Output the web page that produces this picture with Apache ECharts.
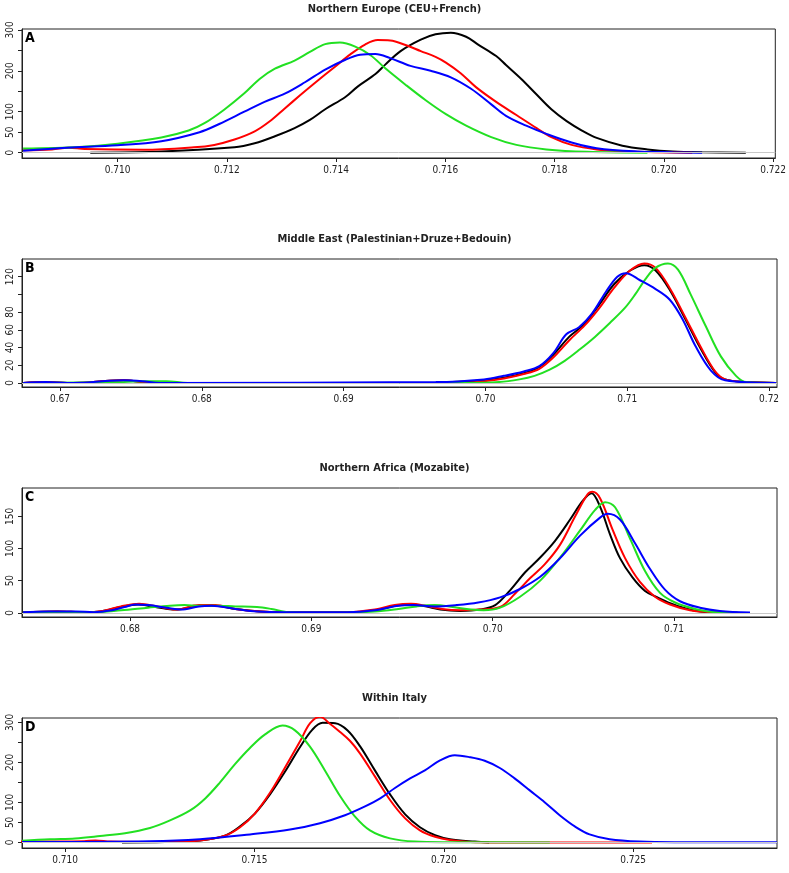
<!DOCTYPE html>
<html>
<head>
<meta charset="utf-8">
<script src="https://cdn.jsdelivr.net/npm/echarts@6/dist/echarts.min.js"></script>
<style>
  html, body { margin: 0; padding: 0; background: #fff; }
  #main { width: 789px; height: 873px; }
</style>
</head>
<body>
<div id="main"></div>
<script>
// panel titles and letters
let titles = ['Northern Europe (CEU+French)', 'Middle East (Palestinian+Druze+Bedouin)', 'Northern Africa (Mozabite)', 'Within Italy'];
let letters = ['A', 'B', 'C', 'D'];

// x tick labels per panel
let xTicksA = [0.710, 0.712, 0.714, 0.716, 0.718, 0.720, 0.722];
let xTicksB = [0.67, 0.68, 0.69, 0.70, 0.71, 0.72];
let xTicksC = [0.68, 0.69, 0.70, 0.71];
let xTicksD = [0.710, 0.715, 0.720, 0.725];
// y ticks (all) and the labels R kept
let yTicksA = [0, 50, 100, 150, 200, 250, 300];
let yLabelsA = [0, 50, 100, 200, 300];
let yTicksB = [0, 20, 40, 60, 80, 100, 120];
let yLabelsB = [0, 20, 40, 60, 80, 120];
let yTicksC = [0, 50, 100, 150];
let yLabelsC = [0, 50, 100, 150];
let yTicksD = [0, 50, 100, 150, 200, 250, 300];
let yLabelsD = [0, 50, 100, 200, 300];

// density curves [x, density]
let aBlack = [[0.7095,0],[0.7107,2],[0.71214,13],[0.71251,23],[0.71288,40],[0.71324,60],[0.71352,80],[0.7138,106],[0.71417,136],[0.7144,162],[0.71472,192],[0.7149,215],[0.71518,248],[0.71555,276],[0.71582,289],[0.7161,293],[0.71638,283],[0.7166,264],[0.71693,236],[0.71711,214],[0.71739,180],[0.71767,142],[0.71794,106],[0.71822,77],[0.7185,54],[0.71877,36],[0.71924,17],[0.7197,8],[0.72016,3],[0.7207,1],[0.7215,0]];
let aRed = [[0.70827,6],[0.7088,8],[0.7091,12],[0.7094,9],[0.71048,7],[0.7114,13],[0.71177,19],[0.71214,32],[0.71251,52],[0.71278,76],[0.71306,108],[0.71334,140],[0.71361,170],[0.71398,210],[0.71426,240],[0.71453,264],[0.71476,275],[0.71499,274],[0.71527,263],[0.71555,248],[0.71582,234],[0.71601,220],[0.71628,194],[0.71656,160],[0.71693,124],[0.7173,92],[0.71767,60],[0.71794,38],[0.71831,19],[0.71877,8],[0.71933,3],[0.72052,0]];
let aGreen = [[0.70827,10],[0.7093,14],[0.7100,22],[0.7108,37],[0.7113,54],[0.71159,72],[0.71195,105],[0.71232,145],[0.7126,180],[0.71288,205],[0.71324,225],[0.71352,246],[0.7138,265],[0.71407,269],[0.71435,259],[0.71463,238],[0.7149,206],[0.71527,166],[0.71564,128],[0.71601,94],[0.71638,66],[0.71684,38],[0.7173,19],[0.71785,8],[0.71859,2],[0.7197,0]];
let aBlue = [[0.70827,5],[0.70907,12],[0.7100,18],[0.7108,28],[0.7115,50],[0.71186,70],[0.71232,100],[0.71269,124],[0.71306,144],[0.71343,172],[0.7138,203],[0.71417,227],[0.71444,239],[0.71472,241],[0.71499,231],[0.71536,212],[0.71573,200],[0.7161,184],[0.71647,156],[0.71684,118],[0.71711,90],[0.71748,66],[0.71785,46],[0.71831,25],[0.71877,11],[0.71951,3],[0.72016,1],[0.7207,0]];

let bBlack = [[0.6674,0],[0.669,1],[0.6705,0],[0.672,0.5],[0.6735,2.5],[0.6745,3],[0.6758,1],[0.677,0],[0.6965,0],[0.6977,1],[0.6999,3],[0.7013,6],[0.7027,11],[0.7038,18],[0.7048,32],[0.7059,52],[0.707,67],[0.708,88],[0.7091,112],[0.7102,127],[0.7112,133],[0.712,127],[0.713,105],[0.7141,72],[0.7152,38],[0.7162,12],[0.7169,4],[0.7184,1],[0.7205,0]];
let bRed = [[0.6674,0],[0.669,1],[0.6705,0],[0.672,0.5],[0.6735,2.5],[0.6745,3],[0.6758,1],[0.677,0],[0.698,0],[0.6999,2],[0.7013,5],[0.7027,10],[0.7038,16],[0.7048,29],[0.7059,48],[0.707,65],[0.708,84],[0.7091,108],[0.7102,127],[0.7112,135],[0.712,130],[0.713,107],[0.7141,74],[0.7152,40],[0.7162,13],[0.7169,4],[0.7184,1],[0.7205,0]];
let bGreen = [[0.6674,0],[0.6745,1],[0.676,2],[0.6775,2],[0.679,0],[0.6985,0],[0.70097,1],[0.7024,4],[0.70346,8],[0.70453,15],[0.70559,25],[0.70666,38],[0.70772,52],[0.70879,68],[0.70985,85],[0.71056,100],[0.71127,117],[0.71198,130],[0.71287,135],[0.71358,128],[0.71447,100],[0.71554,64],[0.7166,30],[0.71767,8],[0.71838,1],[0.7205,0]];
let bBlue = [[0.6674,0],[0.669,1],[0.6705,0],[0.672,0.5],[0.6735,2.5],[0.6745,3],[0.6758,2],[0.677,0],[0.6965,1],[0.6999,4],[0.7013,8],[0.7027,13],[0.7038,19],[0.7048,34],[0.7057,55],[0.7066,63],[0.7075,78],[0.7085,103],[0.7093,120],[0.7099,124],[0.7109,116],[0.712,106],[0.713,94],[0.7139,72],[0.7148,42],[0.7159,14],[0.7169,3],[0.7205,0]];

let cBlack = [[0.6741,1],[0.676,2],[0.6775,1],[0.67837,2],[0.67948,9],[0.68044,13],[0.6814,9],[0.68251,5],[0.68388,11],[0.68471,11],[0.68581,6],[0.68719,2],[0.68829,1],[0.69215,1],[0.69353,4],[0.69463,11],[0.69545,13],[0.69628,10],[0.69711,5],[0.69821,3],[0.69931,5],[0.70014,12],[0.70096,35],[0.70179,63],[0.70262,86],[0.70344,112],[0.70427,145],[0.70496,174],[0.70545,186],[0.70592,165],[0.70647,122],[0.70702,85],[0.70771,55],[0.7084,34],[0.70909,24],[0.70978,15],[0.71061,7],[0.71143,2],[0.71226,0.5],[0.7135,0]];
let cRed = [[0.6741,1],[0.676,2],[0.6775,1],[0.6785,3],[0.6795,10],[0.6805,14],[0.6815,10],[0.6825,5],[0.6838,12],[0.6847,12],[0.6858,6],[0.6872,2],[0.6885,1],[0.692,1],[0.6935,5],[0.6946,12],[0.6955,14],[0.6963,11],[0.6972,6],[0.6982,4],[0.6993,5],[0.70041,9],[0.70124,30],[0.70207,54],[0.70289,76],[0.70372,106],[0.70455,150],[0.70523,184],[0.7055,188],[0.70592,178],[0.7066,130],[0.7073,85],[0.70812,48],[0.70895,25],[0.70978,13],[0.71088,4],[0.71198,1],[0.7128,0]];
let cGreen = [[0.6741,0.5],[0.678,1],[0.6795,4],[0.681,8],[0.6822,11],[0.683,12],[0.6838,11],[0.6847,11],[0.6858,10],[0.687,9],[0.6878,6],[0.6888,1],[0.692,0.5],[0.6935,2],[0.6948,6],[0.6958,10],[0.6968,12],[0.6978,9],[0.6988,5],[0.6995,4],[0.70041,8],[0.70151,25],[0.70262,50],[0.70372,86],[0.70482,128],[0.70565,160],[0.7062,172],[0.70675,164],[0.70758,115],[0.7084,65],[0.70923,31],[0.71006,16],[0.71116,6],[0.71226,1],[0.7135,0]];
let cBlue = [[0.6741,1],[0.6755,2],[0.677,2],[0.678,1],[0.679,4],[0.6797,9],[0.6803,13],[0.681,12],[0.682,8],[0.6828,5],[0.6838,10],[0.6845,11],[0.6858,6],[0.687,2],[0.6885,1],[0.692,1],[0.6935,4],[0.6948,11],[0.6956,12],[0.6968,10],[0.698,12],[0.6992,16],[0.70041,24],[0.70151,37],[0.70262,56],[0.70372,85],[0.70482,120],[0.70592,148],[0.70634,154],[0.70702,145],[0.70785,108],[0.70868,68],[0.7095,36],[0.71033,18],[0.71143,8],[0.71253,3],[0.71419,0.5]];

let dBlack = [[0.7115,0],[0.71264,1],[0.71356,5],[0.71422,17],[0.71462,40],[0.71501,72],[0.71541,120],[0.7158,176],[0.7162,238],[0.71653,282],[0.7168,299],[0.71713,298],[0.71746,280],[0.71779,240],[0.71818,180],[0.71858,120],[0.71898,70],[0.71937,38],[0.71977,18],[0.72016,8],[0.72082,2],[0.7212,0]];
let dRed = [[0.7088,2],[0.7105,3],[0.7108,5],[0.7112,2],[0.7125,1],[0.71356,5],[0.71422,17],[0.71462,38],[0.71501,72],[0.71541,124],[0.7158,186],[0.7162,252],[0.71647,298],[0.71673,314],[0.717,296],[0.71726,276],[0.71752,254],[0.71779,222],[0.71818,165],[0.71858,106],[0.71898,60],[0.71937,30],[0.71977,14],[0.72016,6],[0.72069,1],[0.7215,0],[0.7255,0]];
let dGreen = [[0.70886,4],[0.7096,8],[0.71026,10],[0.71092,16],[0.71158,23],[0.71224,36],[0.71277,55],[0.7133,80],[0.7137,110],[0.71409,150],[0.71448,195],[0.71488,236],[0.71528,270],[0.71574,292],[0.71607,280],[0.71646,240],[0.71686,180],[0.71726,116],[0.71765,65],[0.71805,30],[0.71858,10],[0.71924,2],[0.7201,0.5],[0.7228,0]];
let dBlue = [[0.70886,1],[0.71224,3],[0.71356,8],[0.71488,20],[0.71594,32],[0.71673,48],[0.71739,68],[0.71792,90],[0.71832,110],[0.71871,136],[0.71911,160],[0.7195,180],[0.7199,205],[0.72029,218],[0.72069,213],[0.72108,204],[0.72148,186],[0.72187,160],[0.72227,130],[0.72267,100],[0.72306,68],[0.72346,40],[0.72385,20],[0.72438,8],[0.72517,2],[0.72609,0.5],[0.7288,0.5]];

let FONT = "'Liberation Sans Narrow','Arial Narrow','DejaVu Sans Condensed',sans-serif";
let colors = ['#000000', '#ff0000', '#22e022', '#0000ff'];

let panels = [
    {curves: [aBlack, aRed, aGreen, aBlue], xMin: 0.70825, xMax: 0.72204, yMin: -13, yMax: 302, xTicks: xTicksA, dec: 3, yTicks: yTicksA, yLabels: yLabelsA, top: 29, height: 129},
    {curves: [bBlack, bRed, bGreen, bBlue], xMin: 0.66732, xMax: 0.72056, yMin: -4.6, yMax: 140, xTicks: xTicksB, dec: 2, yTicks: yTicksB, yLabels: yLabelsB, top: 259, height: 128},
    {curves: [cBlack, cRed, cGreen, cBlue], xMin: 0.67404, xMax: 0.71568, yMin: -6.5, yMax: 194, xTicks: xTicksC, dec: 2, yTicks: yTicksC, yLabels: yLabelsC, top: 488, height: 129},
    {curves: [dBlack, dRed, dGreen, dBlue], xMin: 0.70886, xMax: 0.7288, yMin: -14, yMax: 311, xTicks: xTicksD, dec: 3, yTicks: yTicksD, yLabels: yLabelsD, top: 718, height: 130}
];

let grids = [], xAxes = [], yAxes = [], series = [], graphics = [];
panels.forEach((p, i) => {
    grids.push({left: 22, width: 755, top: p.top, height: p.height, show: true, borderColor: '#222', borderWidth: 1, backgroundColor: '#fff'});
    xAxes.push({
        type: 'value', gridIndex: i, min: p.xMin, max: p.xMax,
        axisLine: {show: true, onZero: false, lineStyle: {color: '#222'}},
        axisTick: {show: true, length: 4, lineStyle: {color: '#222'}, customValues: p.xTicks},
        axisLabel: {customValues: p.xTicks, margin: 7, fontSize: 10, color: '#222', fontFamily: FONT,
            formatter: v => v.toFixed(p.dec)},
        splitLine: {show: false}
    });
    yAxes.push({
        type: 'value', gridIndex: i, min: p.yMin, max: p.yMax,
        axisLine: {show: true, lineStyle: {color: '#222'}},
        axisTick: {show: true, length: 4, lineStyle: {color: '#222'}, customValues: p.yTicks},
        axisLabel: {customValues: p.yLabels, rotate: 90, margin: 7, fontSize: 10, color: '#222', fontFamily: FONT},
        splitLine: {show: false}
    });
    // grey zero line of plot.density
    series.push({
        type: 'line', xAxisIndex: i, yAxisIndex: i, data: [], silent: true,
        markLine: {silent: true, symbol: 'none', label: {show: false}, animation: false,
            lineStyle: {color: '#c8c8c8', width: 1, type: 'solid'}, data: [{yAxis: 0}]}
    });
    p.curves.forEach((c, k) => {
        series.push({
            type: 'line', xAxisIndex: i, yAxisIndex: i, data: c,
            showSymbol: false, smooth: 0.35,
            lineStyle: {color: colors[k], width: 2}, itemStyle: {color: colors[k]},
            silent: true, animation: false
        });
    });
    graphics.push({type: 'text', left: 'center', top: p.top - 25,
        style: {text: titles[i], font: 'bold 11px ' + FONT, fill: '#222'}});
    graphics.push({type: 'text', left: 25, top: p.top + 2,
        style: {text: letters[i], font: 'bold 14px ' + FONT, fill: '#000'}});
});

let chart = echarts.init(document.getElementById('main'));
chart.setOption({
    animation: false,
    grid: grids,
    xAxis: xAxes,
    yAxis: yAxes,
    series: series,
    graphic: graphics
});
</script>
</body>
</html>
